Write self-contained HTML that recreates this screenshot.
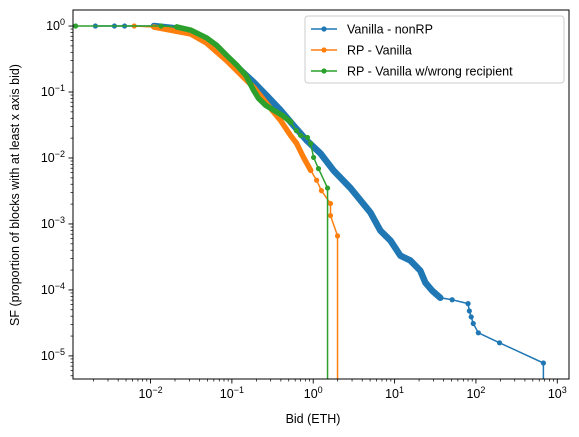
<!DOCTYPE html>
<html><head><meta charset="utf-8"><style>
body{margin:0;background:#fff;}
svg{display:block;font-family:"Liberation Sans","DejaVu Sans",sans-serif;}
</style></head><body>
<svg id="chart" width="579" height="437" xmlns="http://www.w3.org/2000/svg">
<rect x="0" y="0" width="579" height="437" fill="#fff"/>
<g id="series"></g>
<rect x="73" y="10" width="496" height="369" fill="none" stroke="#000" stroke-width="1"/>
<g id="axes"></g>
<text x="313" y="423" font-size="12.5" text-anchor="middle">Bid (ETH)</text>
<text transform="translate(19,195) rotate(-90)" font-size="12.5" text-anchor="middle">SF (proportion of blocks with at least x axis bid)</text>
<g id="legend">
<rect x="305" y="16" width="259" height="67" rx="3" fill="#fff" fill-opacity="0.8" stroke="#ccc"/>
</g>
</svg>
<script>
const seriesNames = ["Vanilla - nonRP", "RP - Vanilla", "RP - Vanilla w/wrong recipient"];
const colors = ["#1f77b4", "#ff7f0e", "#2ca02c"];
const blueX = [0.0021,0.0036,0.0048,0.011,0.0193,0.0312,0.049,0.065,0.086,0.128,0.185,0.267,0.397,0.574,0.83,1.23,1.77,2.87,5.05,6.70,8.9,11.8,15.6,20.7,23.9,29.1,36.5,51,80,83,87.5,92.7,107,195,675];
const blueY = [1.0,1.0,1.0,1.0,0.93,0.81,0.57,0.46,0.33,0.214,0.141,0.089,0.053,0.031,0.0185,0.0117,0.0065,0.0035,0.00149,0.00079,0.00056,0.00033,0.00028,0.000196,0.000129,0.000097,0.000076,0.000071,0.000062,0.000048,0.000039,0.000031,0.0000224,0.0000158,0.0000078];
const orangeX = [0.0063,0.011,0.031,0.049,0.086,0.185,0.267,0.397,0.526,0.625,0.76,0.93,1.10,1.26,1.63,1.63,1.99];
const orangeY = [1.0,0.965,0.76,0.55,0.30,0.118,0.067,0.037,0.022,0.0166,0.0102,0.0065,0.0046,0.0032,0.00204,0.00134,0.00066];
const greenX = [0.0012,0.0135,0.021,0.031,0.049,0.065,0.086,0.115,0.148,0.185,0.213,0.26,0.326,0.42,0.53,0.62,0.70,0.85,0.93,1.01,1.16,1.50];
const greenY = [1.0,1.0,0.97,0.87,0.66,0.51,0.36,0.255,0.18,0.106,0.080,0.063,0.053,0.044,0.035,0.026,0.022,0.0205,0.0166,0.0102,0.0069,0.0035];
const xTickExps = [-2,-1,0,1,2,3];
const yTickExps = [0,-1,-2,-3,-4,-5];

const L=73,R=569,T=10,B=379;
const xMin=-2.953,xMax=3.144,yMin=-5.35,yMax=0.243;
function sx(v){return L+(Math.log10(v)-xMin)/(xMax-xMin)*(R-L);}
function sy(v){return B-(Math.log10(v)-yMin)/(yMax-yMin)*(B-T);}
const NS="http://www.w3.org/2000/svg";
function mk(tag,attrs,parent){const e=document.createElementNS(NS,tag);for(const k in attrs)e.setAttribute(k,attrs[k]);parent.appendChild(e);return e;}
const axes=document.getElementById('axes');
for(let e=-3;e<=3;e++){
  for(let m=1;m<10;m++){
    const v=m*Math.pow(10,e);const lv=Math.log10(v);
    if(lv<xMin||lv>xMax)continue;
    const x=sx(v);
    const t=mk('line',{x1:x,x2:x,y1:B,y2:B+(m===1?4.5:2.5),stroke:'#000','stroke-width':m===1?0.9:0.7},axes);
    
    
  }
}
xTickExps.forEach(e=>{
  const x=sx(Math.pow(10,e));
  const tx=mk('text',{x:x,y:B+19,'font-size':12.5,'text-anchor':'middle'},axes);
  
  
  tx.innerHTML='10<tspan dy="-5" font-size="9">'+(e<0?'\u2212'+(-e):e)+'</tspan>';
});
for(let e=-6;e<=0;e++){
  for(let m=1;m<10;m++){
    const v=m*Math.pow(10,e);const lv=Math.log10(v);
    if(lv<yMin||lv>yMax)continue;
    const y=sy(v);
    const t=mk('line',{x1:L,x2:L-(m===1?4.5:2.5),y1:y,y2:y,stroke:'#000','stroke-width':m===1?0.9:0.7},axes);
    
    
  }
}
yTickExps.forEach(e=>{
  const y=sy(Math.pow(10,e));
  const tx=mk('text',{x:L-8,y:y+4,'font-size':12.5,'text-anchor':'end'},axes);
  
  
  tx.innerHTML='10<tspan dy="-5" font-size="9">'+(e<0?'\u2212'+(-e):e)+'</tspan>';
});
const sg=document.getElementById('series');
function drawSeries(xs,ys,color,denseStart,denseN,w,name){
  const g=mk('g',{},sg);
  
  
  let pts=xs.map((x,i)=>sx(x)+','+sy(ys[i]));
  pts.push(sx(xs[xs.length-1])+','+B);
  mk('polyline',{points:pts.join(' '),fill:'none',stroke:color,'stroke-width':1.5},g);
  const dense=xs.slice(denseStart,denseN).map((x,i)=>sx(x)+','+sy(ys[i+denseStart])).join(' ');
  mk('polyline',{points:dense,fill:'none',stroke:color,'stroke-width':w,'stroke-linejoin':'round','stroke-linecap':'round'},g);
  xs.forEach((x,i)=>{
    const c=mk('circle',{cx:sx(x),cy:sy(ys[i]),r:2.6,fill:color},g);
    
    
  });
}
drawSeries(blueX,blueY,colors[0],3,27,6.5,'series-vanilla-nonrp');
drawSeries(orangeX,orangeY,colors[1],1,12,5.5,'series-rp-vanilla');
drawSeries(greenX,greenY,colors[2],2,15,5.5,'series-rp-vanilla-wrong-recipient');
const lg=document.getElementById('legend');
seriesNames.forEach((n,i)=>{
  const y=29+i*21;
  const g=mk('g',{},lg);
  
  
  mk('line',{x1:311,x2:337,y1:y,y2:y,stroke:colors[i],'stroke-width':1.5},g);
  mk('circle',{cx:324,cy:y,r:2.6,fill:colors[i]},g);
  const t=mk('text',{x:347,y:y+4.5,'font-size':12.5},g);
  t.textContent=n;
});
</script>
</body></html>
